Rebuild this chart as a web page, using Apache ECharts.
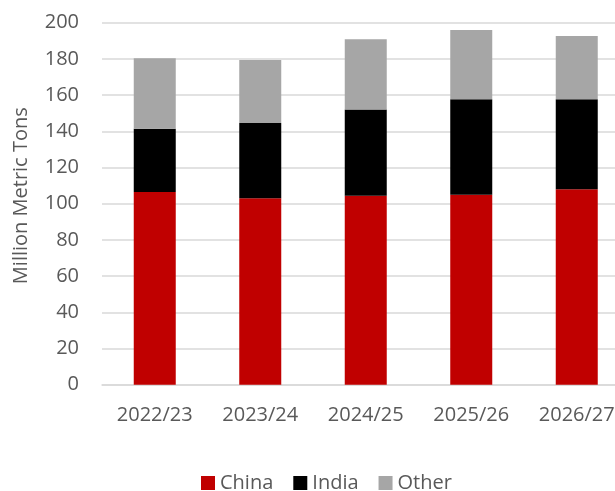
<!DOCTYPE html>
<html>
<head>
<meta charset="utf-8">
<script src="https://cdn.jsdelivr.net/npm/echarts@6/dist/echarts.min.js"></script>
<style>html,body{margin:0;padding:0;background:#fff;overflow:hidden;width:615px;height:491px}#c{width:630px;height:491px}</style>
</head>
<body>
<div id="c"></div>
<script>
const categories = ['2022/23', '2023/24', '2024/25', '2025/26', '2026/27'];
const china = [106.5, 103, 104.4, 105, 108];
const india = [34.9, 41.6, 47.7, 52.7, 49.7];
const other = [38.9, 34.8, 38.7, 38.3, 34.9];
const yTicks = [0, 20, 40, 60, 80, 100, 120, 140, 160, 180, 200];

const font = '"Open Sans", "Noto Sans", sans-serif';
const txt = '#595959';
const chart = echarts.init(document.getElementById('c'), null, {renderer: 'canvas'});
function s(name, data, color) {
  return {name, type: 'bar', stack: 'a', data, barWidth: 42,
    itemStyle: {color}, emphasis: {disabled: true}};
}
chart.setOption({
  animation: false,
  textStyle: {fontFamily: font},
  grid: {left: 102, top: 22.7, right: 0.5, height: 362, containLabel: false},
  legend: {
    top: 473, left: 201, padding: 0, itemGap: 20, itemWidth: 14, itemHeight: 14,
    icon: 'rect', textStyle: {fontSize: 20, color: txt, fontFamily: font},
    data: ['China', 'India', 'Other']
  },
  xAxis: {
    type: 'category', data: categories,
    axisLine: {show: true, lineStyle: {color: '#d9d9d9', width: 1.5}},
    axisTick: {show: false},
    axisLabel: {fontSize: 20, color: txt, margin: 21, fontFamily: font}
  },
  yAxis: {
    type: 'value', min: yTicks[0], max: yTicks[yTicks.length - 1], interval: 20,
    name: 'Million Metric Tons', nameLocation: 'middle', nameGap: 71, nameRotate: 90,
    nameTextStyle: {fontSize: 20, color: txt, fontFamily: font, padding: [0, 0, 0, 16]},
    axisLine: {show: false}, axisTick: {show: false},
    splitLine: {lineStyle: {color: '#d9d9d9', width: 1.5}},
    axisLabel: {fontSize: 20, color: txt, margin: 23, fontFamily: font}
  },
  series: [s('China', china, '#c00000'), s('India', india, '#000000'), s('Other', other, '#a6a6a6')]
});
</script>
</body>
</html>
